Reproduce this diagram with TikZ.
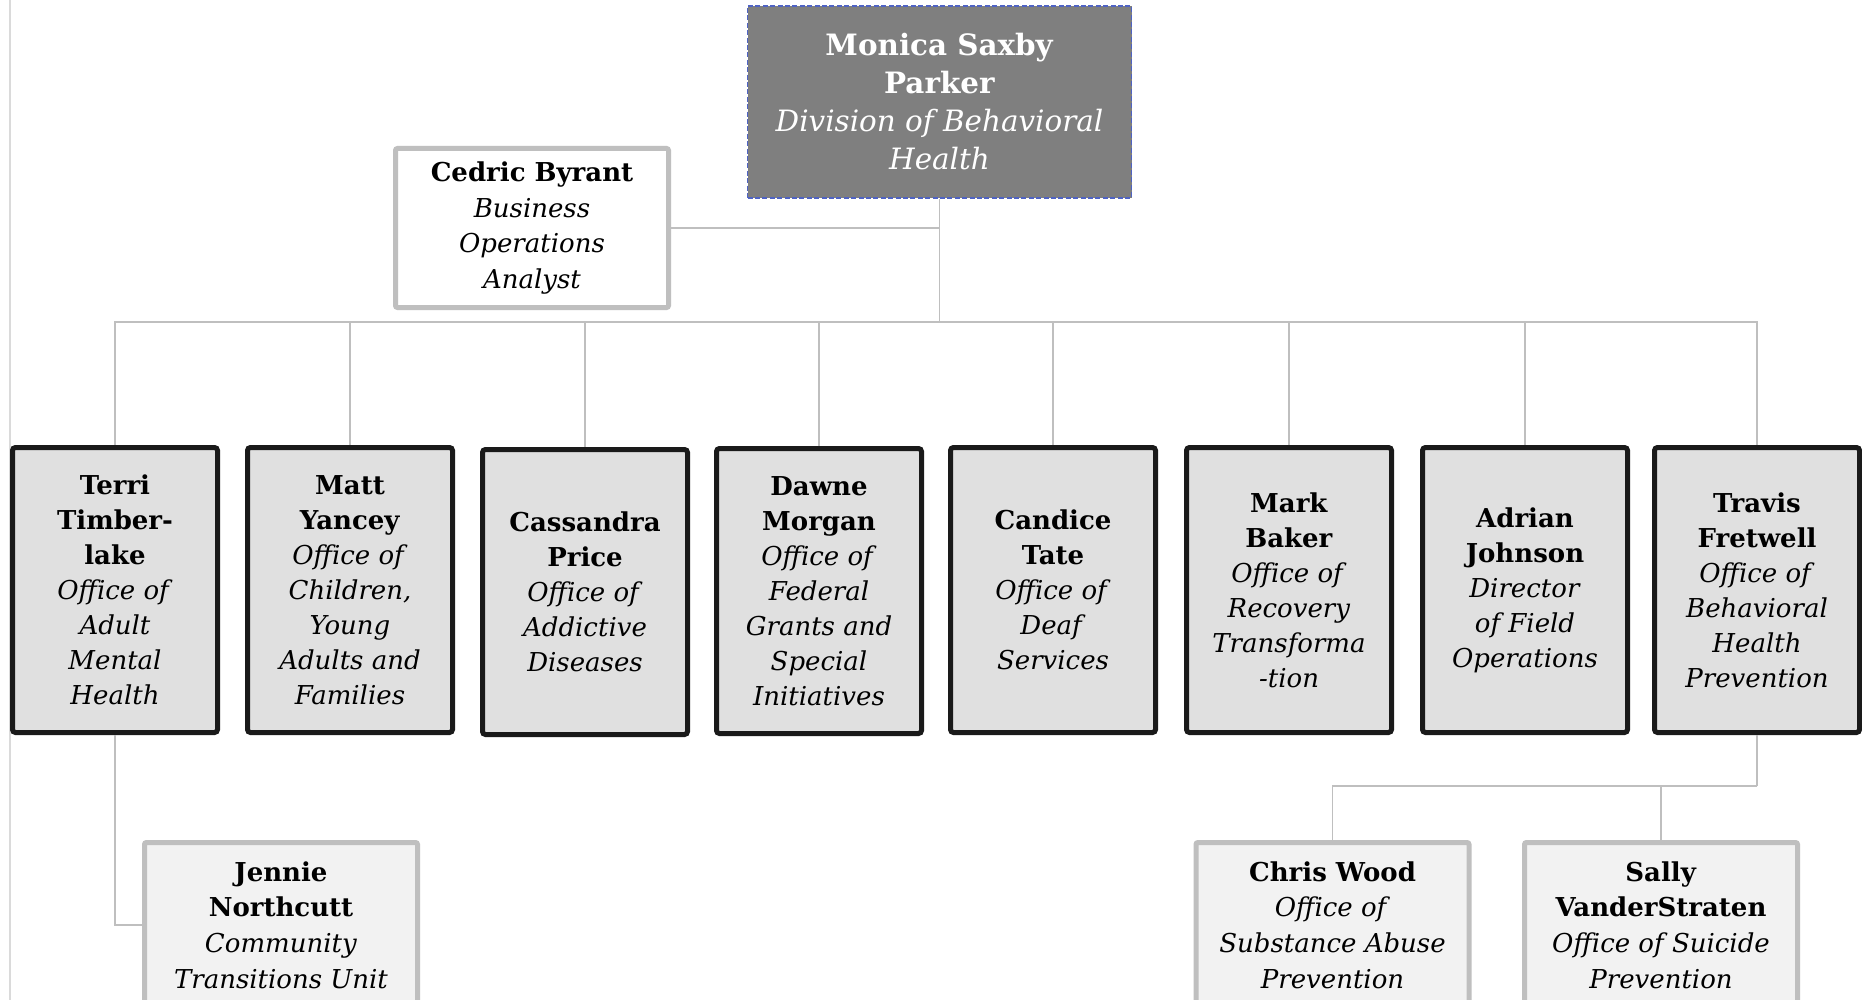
\documentclass[tikz,border=0pt]{standalone}
\usepackage{fontspec}
\setmainfont{DejaVu Serif}
\usepackage{tikz}
\definecolor{headgray}{HTML}{7F7F7F}
\definecolor{headblue}{HTML}{4F63C4}
\definecolor{boxgray}{HTML}{E0E0E0}
\definecolor{palegray}{HTML}{F2F2F2}
\definecolor{rimgray}{HTML}{BFBFBF}
\definecolor{darkrim}{HTML}{1A1A1A}
\definecolor{pagegray}{HTML}{DADADA}
\tikzset{
    every node/.style={align=center, inner sep=0pt}
}
\tikzset{
    headbox/.style={draw=headblue, fill=headgray, text=white, line width=0.7pt,
        dash pattern=on 2.5pt off 1.2pt, minimum width=192pt, minimum height=96pt,
        font=\fontsize{14.7}{19}\selectfont}
}
\tikzset{
    staffbox/.style={draw=rimgray, fill=white, line width=2.5pt, rounded corners=1pt,
        minimum width=136.5pt, minimum height=79.5pt,
        font=\fontsize{13}{17.8}\selectfont}
}
\tikzset{
    unitbox/.style={draw=darkrim, fill=boxgray, line width=2.5pt, rounded corners=1.5pt,
        minimum width=102.5pt, minimum height=142.5pt,
        font=\fontsize{13}{17.5}\selectfont}
}
\tikzset{
    subbox/.style={draw=rimgray, fill=palegray, line width=2.5pt, rounded corners=1pt,
        minimum width=136.5pt, minimum height=82.5pt,
        font=\fontsize{13}{17.8}\selectfont}
}
\tikzset{
    conn/.style={draw=rimgray, line width=0.8pt}
}

\begin{document}
\begin{tikzpicture}[x=0.5pt,y=-0.5pt]
  \clip (0,0) rectangle (1862,1000);
  \fill[white] (0,0) rectangle (1862,1000);
  \draw[pagegray, line width=0.6pt] (10,0) -- (10,1000);

  \node (mon) [headbox] at (939.5,102) {\textbf{Monica Saxby}\\\textbf{Parker}\\\textit{Division of Behavioral}\\\textit{Health}};

  \node (ced) [staffbox] at (532,228) {\textbf{Cedric Byrant}\\\textit{Business}\\\textit{Operations}\\\textit{Analyst}};

  \coordinate (bus) at (939.5,322);

  \node (ter) [unitbox] at (115,590) {\textbf{Terri}\\\textbf{Timber-}\\\textbf{lake}\\\textit{Office of}\\\textit{Adult}\\\textit{Mental}\\\textit{Health}};

  \node (mat) [unitbox] at (350,590) {\textbf{Matt}\\\textbf{Yancey}\\\textit{Office of}\\\textit{Children,}\\\textit{Young}\\\textit{Adults and}\\\textit{Families}};

  \node (cas) [unitbox] at (585,592) {\textbf{Cassandra}\\\textbf{Price}\\\textit{Office of}\\\textit{Addictive}\\\textit{Diseases}};

  \node (daw) [unitbox] at (819,591) {\textbf{Dawne}\\\textbf{Morgan}\\\textit{Office of}\\\textit{Federal}\\\textit{Grants and}\\\textit{Special}\\\textit{Initiatives}};

  \node (can) [unitbox] at (1053,590) {\textbf{Candice}\\\textbf{Tate}\\\textit{Office of}\\\textit{Deaf}\\\textit{Services}};

  \node (mar) [unitbox] at (1289,590) {\textbf{Mark}\\\textbf{Baker}\\\textit{Office of}\\\textit{Recovery}\\\textit{Transforma}\\\textit{-tion}};

  \node (adr) [unitbox] at (1525,590) {\textbf{Adrian}\\\textbf{Johnson}\\\textit{Director}\\\textit{of Field}\\\textit{Operations}};

  \node (tra) [unitbox] at (1757,590) {\textbf{Travis}\\\textbf{Fretwell}\\\textit{Office of}\\\textit{Behavioral}\\\textit{Health}\\\textit{Prevention}};

  \node (jen) [subbox] at (281,925) {\textbf{Jennie}\\\textbf{Northcutt}\\\textit{Community}\\\textit{Transitions Unit}};

  \coordinate (split) at (1757,786);

  \node (chr) [subbox] at (1332.5,925) {\textbf{Chris Wood}\\\textit{Office of}\\\textit{Substance Abuse}\\\textit{Prevention}};

  \node (sal) [subbox] at (1661,925) {\textbf{Sally}\\\textbf{VanderStraten}\\\textit{Office of Suicide}\\\textit{Prevention}};

  \draw[conn] (mon.south) -- (bus);
  \draw[conn] (ced.east) -- (ced.east -| mon.south);
  \draw[conn] (bus) -| (ter.north);
  \draw[conn] (bus) -| (mat.north);
  \draw[conn] (bus) -| (cas.north);
  \draw[conn] (bus) -| (daw.north);
  \draw[conn] (bus) -| (can.north);
  \draw[conn] (bus) -| (mar.north);
  \draw[conn] (bus) -| (adr.north);
  \draw[conn] (bus) -| (tra.north);
  \draw[conn] (ter.south) |- (jen.west);
  \draw[conn] (tra.south) -- (split);
  \draw[conn] (split) -| (chr.north);
  \draw[conn] (split) -| (sal.north);
\end{tikzpicture}
\end{document}
